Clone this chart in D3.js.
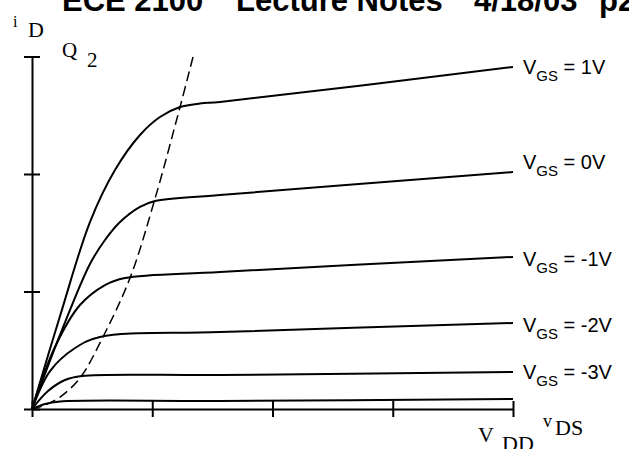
<!DOCTYPE html>
<meta charset="utf-8">
<head>
<style>
body { margin: 0; background: #fff; }
svg { display: block; }
.title { font: bold 31px "Liberation Sans", Arial, sans-serif; }
.serif { font-family: "Liberation Serif", "Times New Roman", serif; }
.lbl { font-family: "Liberation Sans", Arial, sans-serif; }
.axis path, .axis line { stroke: #000; stroke-width: 2px; }
.curve { fill: none; stroke: #000; stroke-width: 2px; }
.locus { fill: none; stroke: #000; stroke-width: 1.5px; stroke-dasharray: 10,5; }
</style>
<script src="https://d3js.org/d3.v7.min.js"></script>
</head>
<body>
<script>

// tick positions (arbitrary units of v_DS and i_D)
var xTicks = [0, 1, 2, 3, 4];
var yTicks = [0, 1, 2, 3];

// output characteristics
var vgsLabels = ["1V", "0V", "-1V", "-2V", "-3V", null];
var curveVds = [
  [0, 0.233, 0.482, 0.69, 0.898, 1.064, 1.231, 1.397, 1.563, 4.0],
  [0, 0.233, 0.482, 0.607, 0.732, 0.898, 1.023, 1.563, 4.0],
  [0, 0.191, 0.399, 0.607, 0.773, 1.563, 4.0],
  [0, 0.15, 0.358, 0.565, 1.563, 4.0],
  [0, 0.133, 0.274, 0.416, 1.563, 4.0],
  [0, 0.108, 0.233, 1.563, 4.0]
];
var curveId = [
  [0, 0.791, 1.591, 2.034, 2.332, 2.485, 2.57, 2.6, 2.613, 2.911],
  [0, 0.63, 1.234, 1.438, 1.591, 1.72, 1.77, 1.821, 2.017],
  [0, 0.528, 0.885, 1.055, 1.115, 1.166, 1.294],
  [0, 0.323, 0.519, 0.613, 0.655, 0.732],
  [0, 0.153, 0.247, 0.281, 0.289, 0.315],
  [0, 0.043, 0.064, 0.068, 0.085]
];
// where each label sits vertically (i_D units of the V baseline)
var labelId = [2.853, 2.04, 1.217, 0.655, 0.255];

// saturation boundary (dashed)
var edgeVds = [0, 0.108, 0.233, 0.399, 0.59, 0.815, 1.015, 1.231, 1.339];
var edgeId = [0, 0.034, 0.102, 0.264, 0.613, 1.115, 1.762, 2.57, 2.996];

var svg = d3.select("body").append("svg")
    .attr("width", 629)
    .attr("height", 449);

var x = d3.scaleLinear().domain([0, 4]).range([32, 513]);
var y = d3.scaleLinear().domain([0, 3]).range([409, 56.5]);

// title, clipped at the top like the scan
var title = svg.append("g").attr("class", "title");
[["ECE 2100", 62], ["Lecture Notes", 236], ["4/18/03", 474], ["p2", 599]].forEach(function(t) {
  title.append("text").attr("x", t[1]).attr("y", 11).text(t[0]);
});

// axes, ticks cross the line
var xAxis = svg.append("g")
    .attr("class", "axis")
    .attr("transform", "translate(0," + y(0) + ")")
    .call(d3.axisBottom(x).tickValues(xTicks).tickSize(8).tickSizeOuter(0).tickFormat(""));
xAxis.selectAll(".tick line").attr("y1", -8);

var yAxis = svg.append("g")
    .attr("class", "axis")
    .attr("transform", "translate(" + x(0) + ",0)")
    .call(d3.axisLeft(y).tickValues(yTicks).tickSize(8).tickSizeOuter(0).tickFormat(""));
yAxis.selectAll(".tick line").attr("x1", 8);

var line = d3.line()
    .x(function(d) { return x(d[0]); })
    .y(function(d) { return y(d[1]); })
    .curve(d3.curveCatmullRom.alpha(0.5));

curveVds.forEach(function(vs, i) {
  var pts = vs.map(function(v, j) { return [v, curveId[i][j]]; });
  svg.append("path").attr("class", "curve").attr("d", line(pts));
});

var edge = edgeVds.map(function(v, j) { return [v, edgeId[j]]; });
svg.append("path").attr("class", "locus").attr("d", line(edge));

// V_GS labels
vgsLabels.forEach(function(l, i) {
  if (!l) return;
  var t = svg.append("text").attr("class", "lbl")
      .attr("x", x(4) + 10)
      .attr("y", y(labelId[i]))
      .style("font-size", "20px");
  t.append("tspan").text("V");
  t.append("tspan").attr("dy", 7).style("font-size", "15px").text("GS");
  t.append("tspan").attr("dy", -7).text(" = " + l);
});

// axis names
var yName = svg.append("text").attr("class", "serif");
yName.append("tspan").attr("x", 13).attr("y", 27).style("font-size", "16px").text("i");
yName.append("tspan").attr("x", 28).attr("y", 37).style("font-size", "22px").text("D");

var q = svg.append("text").attr("class", "serif").style("font-size", "21px");
q.append("tspan").attr("x", 62).attr("y", 57).text("Q");
q.append("tspan").attr("x", 87).attr("y", 67).text("2");

var vdd = svg.append("text").attr("class", "serif").style("font-size", "22px");
vdd.append("tspan").attr("x", 478).attr("y", 442).text("V");
vdd.append("tspan").attr("x", 502).attr("y", 451).text("DD");

var vds = svg.append("text").attr("class", "serif").style("font-size", "22px");
vds.append("tspan").attr("x", 543).attr("y", 427).style("font-size", "18px").text("v");
vds.append("tspan").attr("x", 555).attr("y", 435).text("DS");

</script>
</body>
